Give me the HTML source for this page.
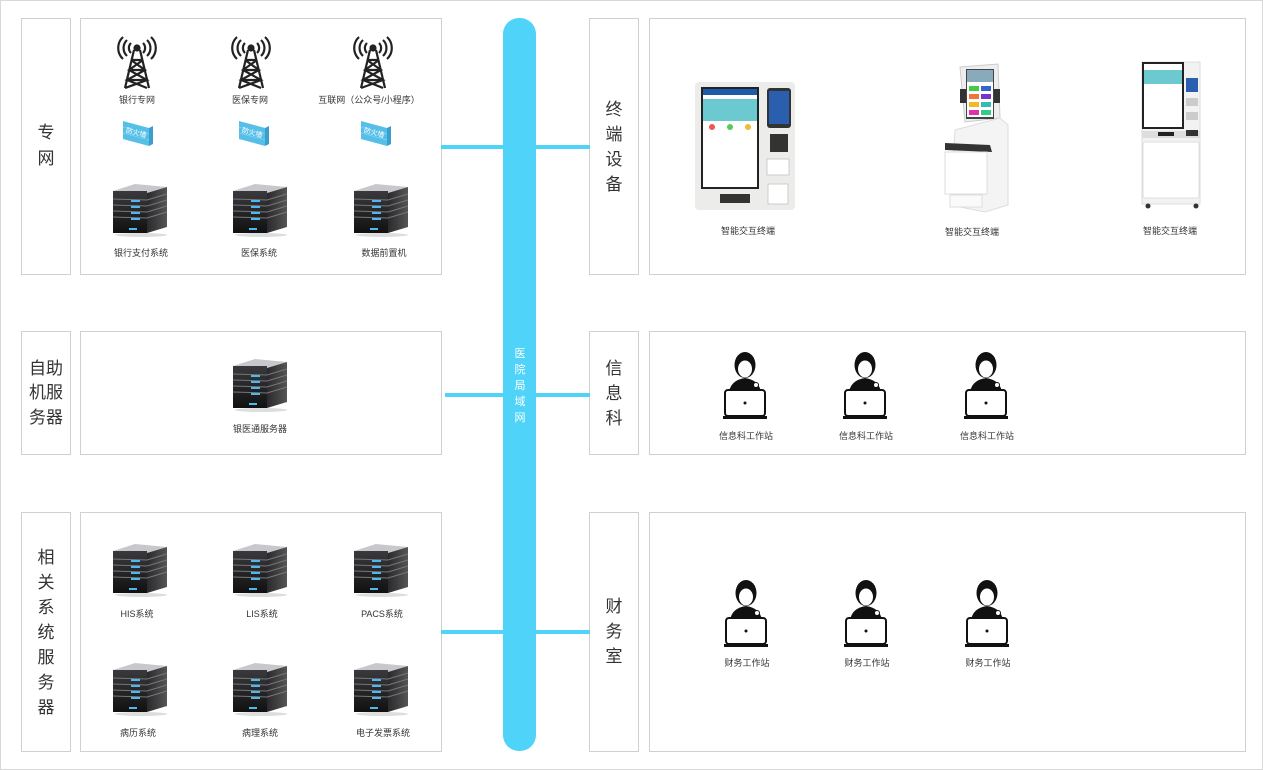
<!DOCTYPE html>
<html><head><meta charset="utf-8">
<style>
html,body{margin:0;padding:0;background:#fff;}
svg{display:block;font-family:"Liberation Sans","Noto Sans CJK SC",sans-serif;}
.s{font-size:9px;fill:#333;text-anchor:middle;}
.b{font-size:17px;fill:#333;text-anchor:middle;}
.box{fill:#fff;stroke:#d0d0d0;stroke-width:1;}
</style></head><body>
<svg width="1263" height="770" viewBox="0 0 1263 770" xmlns="http://www.w3.org/2000/svg">
<defs>
<linearGradient id="fg" x1="0" y1="0" x2="0" y2="1"><stop offset="0" stop-color="#3a3a3e"/><stop offset="1" stop-color="#111"/></linearGradient>
<linearGradient id="sg" x1="0" y1="0" x2="1" y2="0"><stop offset="0" stop-color="#2a2a2e"/><stop offset="1" stop-color="#555"/></linearGradient>
<g id="srv">
 <polygon points="0,10 34,12 54,6 22,3" fill="#c8c8cc"/>
 <rect x="0" y="10" width="34" height="42" fill="url(#fg)"/>
 <polygon points="34,12 54,6 54,46 34,52" fill="url(#sg)"/>
 <g stroke="#777" stroke-width="1"><line x1="0" y1="18" x2="34" y2="19"/><line x1="0" y1="24" x2="34" y2="25"/><line x1="0" y1="30" x2="34" y2="31"/><line x1="0" y1="36" x2="34" y2="37"/>
 <line x1="34" y1="19" x2="54" y2="13"/><line x1="34" y1="25" x2="54" y2="19"/><line x1="34" y1="31" x2="54" y2="25"/><line x1="34" y1="37" x2="54" y2="31"/></g>
 <g fill="#4fb8f0"><rect x="18" y="19" width="9" height="2"/><rect x="18" y="25" width="9" height="2"/><rect x="18" y="31" width="9" height="2"/><rect x="18" y="37" width="9" height="2"/><rect x="16" y="47" width="8" height="2"/></g>
 <ellipse cx="28" cy="54" rx="26" ry="2" fill="#ddd"/>
</g>
<g id="tower" fill="none" stroke="#222" stroke-width="2.2">
 <path d="M15,8 L6,46 M21,8 L30,46 M12,18 L24,18 M10,28 L26,28 M8,38 L28,38 M12,18 L26,28 L8,38 L28,46 M24,18 L10,28 L28,38 L6,46"/>
 <circle cx="18" cy="6" r="2.5" fill="#222"/>
 <path d="M12,1 A7,7 0 0 0 12,11 M24,1 A7,7 0 0 1 24,11 M8,-2 A11,11 0 0 0 8,14 M28,-2 A11,11 0 0 1 28,14 M4,-5 A15,15 0 0 0 4,17 M32,-5 A15,15 0 0 1 32,17"/>
</g>
<g id="fw">
 <polygon points="0,0 26,7 26,25 0,18" fill="#56bfe8"/>
 <polygon points="26,7 30,5 30,23 26,25" fill="#3a9fcc"/>
 <g stroke="#8fd6f2" stroke-width="0.6"><line x1="0" y1="6" x2="26" y2="13"/><line x1="0" y1="12" x2="26" y2="19"/></g>
 <text x="13" y="14" font-size="7" fill="#fff" text-anchor="middle" transform="rotate(15 13 12)">防火墙</text>
</g>
<g id="doc">
 <path d="M6,40 Q8,28 22,26 Q36,28 38,40 Z" fill="#111"/>
 <ellipse cx="22" cy="13" rx="10.5" ry="13" fill="#111"/>
 <ellipse cx="22" cy="17" rx="7" ry="8.5" fill="#fff"/>
 <path d="M13,12 Q22,2 31,12 L31,6 Q22,-2 13,6Z" fill="#111"/>
 <circle cx="33" cy="33" r="2.5" fill="#fff" stroke="#111"/>
 <rect x="2" y="38" width="40" height="26" rx="3" fill="#fff" stroke="#111" stroke-width="2"/>
 <rect x="0" y="64" width="44" height="3" fill="#111"/>
 <circle cx="22" cy="51" r="1.5" fill="#111"/>
</g>
</defs>
<rect x="0.5" y="0.5" width="1262" height="769" fill="#fff" stroke="#d8d8d8"/>

<rect class="box" x="21.5" y="18.5" width="49" height="256"/>
<rect class="box" x="80.5" y="18.5" width="361" height="256"/>
<rect class="box" x="21.5" y="331.5" width="49" height="123"/>
<rect class="box" x="80.5" y="331.5" width="361" height="123"/>
<rect class="box" x="21.5" y="512.5" width="49" height="239"/>
<rect class="box" x="80.5" y="512.5" width="361" height="239"/>
<rect class="box" x="589.5" y="18.5" width="49" height="256"/>
<rect class="box" x="649.5" y="18.5" width="596" height="256"/>
<rect class="box" x="589.5" y="331.5" width="49" height="123"/>
<rect class="box" x="649.5" y="331.5" width="596" height="123"/>
<rect class="box" x="589.5" y="512.5" width="49" height="239"/>
<rect class="box" x="649.5" y="512.5" width="596" height="239"/>

<g fill="#4fd3f8">
<rect x="441" y="145" width="64" height="4"/>
<rect x="445" y="393" width="60" height="4"/>
<rect x="441" y="630" width="64" height="4"/>
<rect x="534" y="145" width="56" height="4"/>
<rect x="534" y="393" width="56" height="4"/>
<rect x="534" y="630" width="56" height="4"/>
<rect x="503" y="18" width="33" height="733" rx="16"/>
</g>
<g font-size="11" fill="#fff" text-anchor="middle"><text x="520" y="357">医</text><text x="520" y="373">院</text><text x="520" y="389">局</text><text x="520" y="405">域</text><text x="520" y="421">网</text></g>

<text class="b" x="46" y="138">专</text><text class="b" x="46" y="164">网</text>
<text class="b" x="46" y="374">自助</text><text class="b" x="46" y="398">机服</text><text class="b" x="46" y="423">务器</text>
<text class="b" x="46" y="563">相</text><text class="b" x="46" y="588">关</text><text class="b" x="46" y="613">系</text><text class="b" x="46" y="638">统</text><text class="b" x="46" y="663">服</text><text class="b" x="46" y="688">务</text><text class="b" x="46" y="713">器</text>
<text class="b" x="614" y="115">终</text><text class="b" x="614" y="140">端</text><text class="b" x="614" y="165">设</text><text class="b" x="614" y="190">备</text>
<text class="b" x="614" y="374">信</text><text class="b" x="614" y="399">息</text><text class="b" x="614" y="424">科</text>
<text class="b" x="614" y="612">财</text><text class="b" x="614" y="637">务</text><text class="b" x="614" y="662">室</text>

<use href="#tower" x="119" y="42"/><use href="#tower" x="233" y="42"/><use href="#tower" x="355" y="42"/>
<text class="s" x="137" y="103">银行专网</text><text class="s" x="250" y="103">医保专网</text><text class="s" x="369" y="103">互联网（公众号/小程序）</text>
<use href="#fw" x="123" y="121"/><use href="#fw" x="239" y="121"/><use href="#fw" x="361" y="121"/>
<use href="#srv" x="113" y="181"/><use href="#srv" x="233" y="181"/><use href="#srv" x="354" y="181"/>
<text class="s" x="141" y="256">银行支付系统</text><text class="s" x="259" y="256">医保系统</text><text class="s" x="384" y="256">数据前置机</text>

<use href="#srv" x="233" y="356"/>
<text class="s" x="260" y="432">银医通服务器</text>

<use href="#srv" x="113" y="541"/><use href="#srv" x="233" y="541"/><use href="#srv" x="354" y="541"/>
<text class="s" x="137" y="617">HIS系统</text><text class="s" x="262" y="617">LIS系统</text><text class="s" x="382" y="617">PACS系统</text>
<use href="#srv" x="113" y="660"/><use href="#srv" x="233" y="660"/><use href="#srv" x="354" y="660"/>
<text class="s" x="138" y="736">病历系统</text><text class="s" x="260" y="736">病理系统</text><text class="s" x="383" y="736">电子发票系统</text>

<g>
 <rect x="695" y="82" width="100" height="128" rx="4" fill="#ececea"/>
 <rect x="701" y="87" width="58" height="102" fill="#222"/>
 <rect x="703" y="89" width="54" height="98" fill="#fff"/>
 <rect x="703" y="99" width="54" height="22" fill="#6cc9cf"/>
 <rect x="703" y="89" width="54" height="6" fill="#1d5ca8"/>
 <circle cx="712" cy="127" r="3" fill="#e55"/><circle cx="730" cy="127" r="3" fill="#5c5"/><circle cx="748" cy="127" r="3" fill="#eb3"/>
 <rect x="767" y="88" width="24" height="40" rx="3" fill="#333"/><rect x="769" y="91" width="20" height="33" fill="#2a5fb0"/>
 <rect x="770" y="134" width="18" height="18" fill="#333"/>
 <rect x="767" y="159" width="22" height="16" fill="#fff" stroke="#ccc"/>
 <rect x="768" y="184" width="20" height="20" fill="#fff" stroke="#ccc"/>
 <rect x="720" y="194" width="30" height="9" fill="#333"/>
</g>
<g>
 <polygon points="960,67 998,64 1000,118 965,122" fill="#eee" stroke="#ccc"/>
 <rect x="966" y="69" width="28" height="50" fill="#444"/>
 <rect x="967" y="70" width="26" height="47" fill="#fff"/>
 <rect x="967" y="70" width="26" height="12" fill="#8ab"/>
 <g><rect x="969" y="86" width="10" height="5" fill="#4c4"/><rect x="981" y="86" width="10" height="5" fill="#36c"/><rect x="969" y="94" width="10" height="5" fill="#e73"/><rect x="981" y="94" width="10" height="5" fill="#73c"/><rect x="969" y="102" width="10" height="5" fill="#eb2"/><rect x="981" y="102" width="10" height="5" fill="#3bb"/><rect x="969" y="110" width="10" height="5" fill="#d3a"/><rect x="981" y="110" width="10" height="5" fill="#3c8"/></g>
 <rect x="960" y="89" width="6" height="14" fill="#333"/><rect x="994" y="89" width="6" height="14" fill="#333"/>
 <polygon points="955,130 1000,118 1008,125 1008,205 985,212 950,205" fill="#f4f4f4" stroke="#ddd"/>
 <polygon points="945,143 990,145 992,152 945,150" fill="#333"/>
 <rect x="945" y="152" width="42" height="42" fill="#fff" stroke="#ddd"/>
 <rect x="950" y="195" width="32" height="12" fill="#fafafa" stroke="#ddd"/>
</g>
<g>
 <rect x="1142" y="62" width="58" height="142" fill="#f2f2f2" stroke="#ddd"/>
 <rect x="1142" y="62" width="42" height="67" fill="#222"/>
 <rect x="1144" y="64" width="38" height="63" fill="#fff"/>
 <rect x="1144" y="70" width="38" height="14" fill="#6cc9cf"/>
 <rect x="1186" y="78" width="12" height="14" fill="#2a5fb0"/>
 <rect x="1186" y="98" width="12" height="8" fill="#ccc"/><rect x="1186" y="112" width="12" height="8" fill="#ccc"/>
 <rect x="1142" y="131" width="58" height="7" fill="#ddd"/>
 <rect x="1158" y="132" width="16" height="4" fill="#222"/><rect x="1186" y="130" width="12" height="6" fill="#333"/>
 <rect x="1143" y="142" width="56" height="56" rx="2" fill="#fff" stroke="#ddd"/>
 <circle cx="1148" cy="206" r="2.5" fill="#333"/><circle cx="1196" cy="206" r="2.5" fill="#333"/>
</g>
<text class="s" x="748" y="234">智能交互终端</text><text class="s" x="972" y="235">智能交互终端</text><text class="s" x="1170" y="234">智能交互终端</text>

<use href="#doc" x="723" y="352"/><use href="#doc" x="843" y="352"/><use href="#doc" x="964" y="352"/>
<text class="s" x="746" y="439">信息科工作站</text><text class="s" x="866" y="439">信息科工作站</text><text class="s" x="987" y="439">信息科工作站</text>
<use href="#doc" x="724" y="580"/><use href="#doc" x="844" y="580"/><use href="#doc" x="965" y="580"/>
<text class="s" x="747" y="666">财务工作站</text><text class="s" x="867" y="666">财务工作站</text><text class="s" x="988" y="666">财务工作站</text>
</svg>
</body></html>
